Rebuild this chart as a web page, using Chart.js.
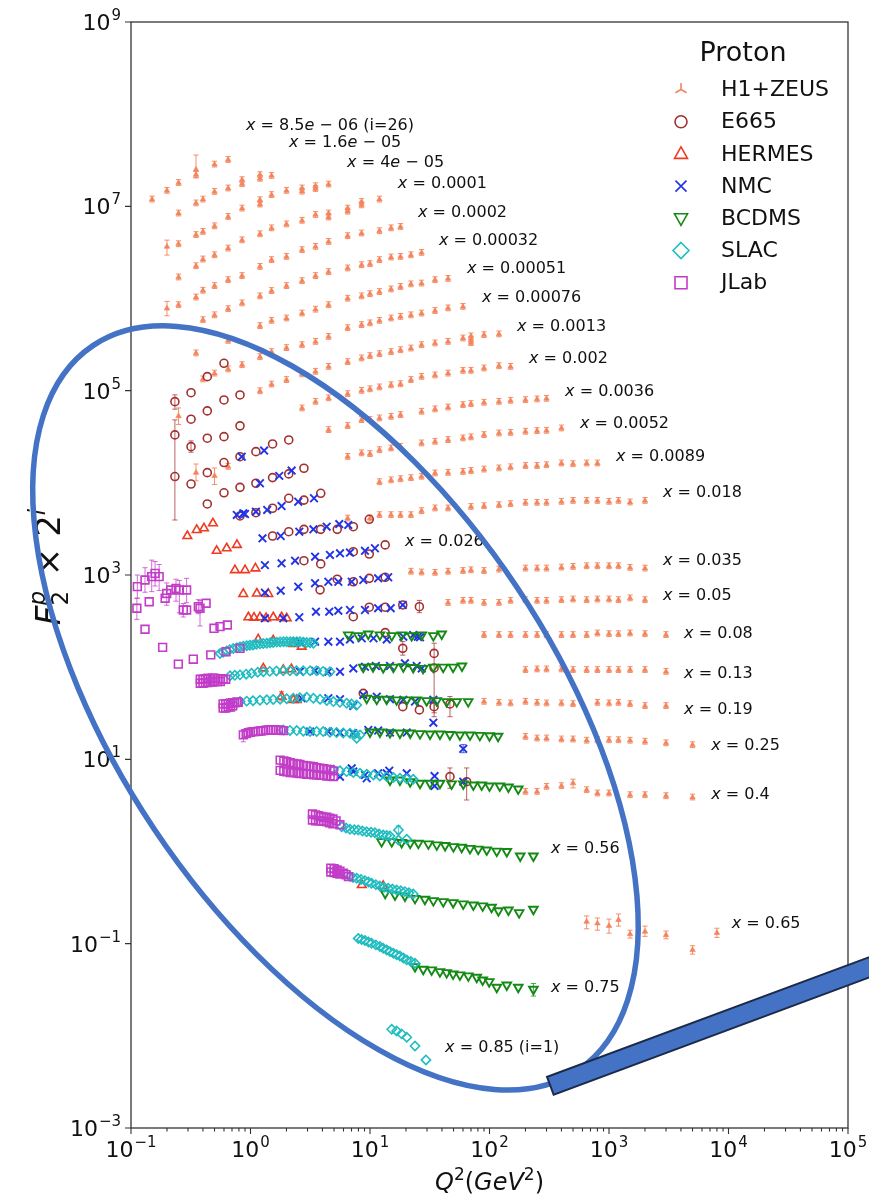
<!DOCTYPE html>
<html>
<head>
<meta charset="utf-8">
<script src="https://cdn.jsdelivr.net/npm/chart.js"></script>
<style>
  html, body { margin: 0; padding: 0; background: #fff; }
  #wrap { width: 869px; height: 1196px; }
</style>
</head>
<body>
<div id="wrap"><canvas id="f2Chart" width="869" height="1196"></canvas></div>
<script>
// F2 proton structure function x 2^i vs Q^2, one array per experiment: [Q2, F2*2^i, (errLow, errHigh)]
const h1zeus = [
  // x = 8.5e-06 (i=26)
  [0.15,1.19e7],[0.2,1.48e7],[0.25,1.8e7],[0.35,2.5e7,2.03e7,3.6e7],[0.35,2.2e7],[0.5,2.85e7],[0.65,3.2e7],
  // x = 1.6e-05
  [0.25,8.4e6],[0.35,1.08e7],[0.4,1.19e7],[0.5,1.44e7],[0.65,1.57e7],[0.85,1.93e7],[0.85,1.75e7],[1.2,2.19e7],[1.2,2.0e7],[1.5,2.15e7],
  // x = 4e-05
  [0.2,3.65e6,2.96e6,4.3e6],[0.25,3.9e6],[0.35,4.9e6],[0.4,5.3e6],[0.5,6.1e6],[0.65,7.7e6],[0.85,9.5e6],[1.2,1.17e7],[1.2,1.05e7],
  [1.5,1.33e7],[2,1.48e7],[2.7,1.57e7],[2.7,1.45e7],[3.5,1.66e7],[3.5,1.55e7],[4.5,1.73e7],
  // x = 0.0001
  [0.25,1.7e6],[0.35,2.25e6],[0.4,2.66e6],[0.5,2.96e6],[0.65,3.5e6],[0.85,4.3e6],[1.2,5.0e6],[1.5,5.8e6],[2,6.4e6],[2.7,7.0e6],
  [3.5,8.1e6],[4.5,8.4e6],[4.5,7.6e6],[6.5,9.5e6],[6.5,8.8e6],[8.5,1.12e7],[8.5,1.03e7],[12,1.19e7],
  // x = 0.0002
  [0.2,7.8e5,6.5e5,9.3e5],[0.25,8.5e5],[0.35,1.03e6],[0.4,1.22e6],[0.5,1.37e6],[0.65,1.59e6],[0.85,1.76e6],[1.2,2.21e6],[1.5,2.62e6],
  [2,2.84e6],[2.7,3.36e6],[3.5,3.65e6],[4.5,4.13e6],[6.5,4.77e6],[8.5,5.1e6],[12,5.4e6],[15,5.8e6],[18,6.0e6],
  // x = 0.00032
  [0.4,5.85e5],[0.5,6.6e5],[0.65,7.7e5],[0.85,8.9e5],[1.2,1.06e6],[1.5,1.21e6],[2,1.37e6],[2.7,1.55e6],[3.5,1.76e6],[4.5,1.94e6],
  [6.5,2.13e6],[8.5,2.31e6],[10,2.37e6],[12,2.62e6],[15,2.8e6],[18,2.84e6],[22,2.96e6],[27,3.14e6],
  // x = 0.00051
  [0.35,2.55e5],[0.65,3.49e5],[1.2,5.04e5],[1.5,5.75e5],[2,6.1e5],[2.7,6.9e5],[3.5,7.6e5],[4.5,8.5e5],[6.5,1.0e6],[8.5,1.06e6],
  [10,1.12e6],[12,1.18e6],[15,1.26e6],[18,1.34e6],[22,1.43e6],[27,1.46e6],[35,1.59e6],[45,1.64e6],
  // x = 0.00076
  [0.4,1.33e5],[0.5,1.54e5],[0.65,1.71e5],[0.85,1.9e5],[1.2,2.32e5],[1.5,2.63e5],[2,2.91e5],[2.7,3.13e5],[3.5,3.4e5],[4.5,3.85e5],
  [6.5,4.79e5],[8.5,5.17e5],[10,5.4e5],[12,5.75e5],[15,6.1e5],[18,6.35e5],[22,6.6e5],[27,6.9e5],[35,7.35e5],[45,7.85e5],[60,8.15e5],
  // x = 0.0013
  [1.2,9.9e4],[1.5,1.17e5],[2,1.31e5],[2.7,1.51e5],[3.5,1.61e5],[4.5,1.82e5],[6.5,2.05e5],[8.5,2.25e5],[10,2.38e5],[12,2.5e5],
  [15,2.63e5],[18,2.76e5],[22,2.88e5],[27,3.13e5],[35,3.27e5],[45,3.4e5],[60,3.7e5],[70,3.55e5],[70,3.3e5],[70,3.9e5],[90,4.02e5],[120,4.1e5],
  // x = 0.002
  [0.25,5.3e4,4.3e4,6.5e4],[2.7,6.45e4],[3.5,7.6e4],[4.5,8.3e4],[6.5,9.2e4],[8.5,1.0e5],[10,1.04e5],[12,1.09e5],[15,1.15e5],[18,1.18e5],
  [22,1.31e5],[27,1.42e5],[35,1.47e5],[45,1.54e5],[60,1.65e5],[70,1.65e5],[90,1.75e5],[120,1.85e5],[150,1.82e5],
  // x = 0.0036
  [4.5,3.75e4],[6.5,4.15e4],[8.5,4.82e4],[10,4.82e4],[12,5.02e4],[15,5.23e4],[18,5.46e4],[27,5.93e4],[35,6.3e4],[45,6.6e4],
  [60,7.0e4],[70,7.18e4],[90,7.43e4],[120,7.6e4],[150,7.8e4],[200,7.93e4],[250,8.07e4],[300,8.2e4],
  // x = 0.0052
  [0.35,1.29e4,1.05e4,1.6e4],[0.5,1.19e4,9.6e3,1.45e4],[0.65,1.5e4],[6.5,1.92e4],[8.5,2.1e4],[10,2.06e4],[12,2.27e4],[15,2.37e4],
  [18,2.47e4],[27,2.69e4],[35,2.8e4],[45,2.92e4],[60,3.05e4],[70,3.13e4],[90,3.31e4],[120,3.45e4],[150,3.5e4],[200,3.6e4],
  [250,3.66e4],[300,3.69e4],[400,3.91e4],
  // x = 0.0089
  [12,1.02e4],[15,1.07e4],[18,1.1e4],[22,1.13e4],[27,1.17e4],[35,1.27e4],[45,1.29e4],[60,1.32e4],[70,1.35e4],[90,1.4e4],
  [120,1.44e4],[150,1.48e4],[200,1.53e4],[250,1.53e4],[300,1.56e4],[400,1.63e4],[500,1.6e4],[650,1.63e4],[800,1.63e4],
  // x = 0.018
  [6.5,4.12e3],[10,4.12e3],[12,4.48e3],[15,4.48e3],[18,4.48e3],[22,4.48e3],[27,4.95e3],[35,5.3e3],[45,5.3e3],[70,5.5e3],
  [90,5.6e3],[120,5.75e3],[150,5.9e3],[200,6.1e3],[250,6.1e3],[300,6.1e3],[400,6.25e3],[500,6.4e3],[650,6.4e3],[800,6.4e3],
  [1000,6.25e3],[1200,6.4e3],[1500,6.15e3],[2000,6.4e3],
  // x = 0.035
  [22,1.09e3],[27,1.07e3],[35,1.06e3],[45,1.09e3],[60,1.11e3],[70,1.13e3],[90,1.11e3],[120,1.15e3],[200,1.18e3],[250,1.18e3],
  [300,1.18e3],[400,1.21e3],[500,1.23e3],[650,1.25e3],[800,1.25e3],[1000,1.25e3],[1200,1.25e3],[1500,1.2e3],[2000,1.18e3],
  // x = 0.05
  [45,5.0e2],[60,5.27e2],[70,5.27e2],[90,5.0e2],[120,5.0e2],[150,5.27e2],[200,5.36e2],[250,5.27e2],[300,5.27e2],[400,5.36e2],
  [500,5.45e2],[650,5.36e2],[800,5.45e2],[1000,5.45e2],[1200,5.36e2],[1500,5.6e2],[2000,5.36e2],
  // x = 0.08
  [90,2.24e2],[120,2.24e2],[150,2.24e2],[200,2.24e2],[250,2.24e2],[300,2.24e2],[400,2.24e2],[500,2.24e2],[650,2.24e2],
  [800,2.33e2],[1000,2.29e2],[1200,2.29e2],[1500,2.33e2],[2000,2.29e2],[3000,2.24e2],
  // x = 0.13
  [200,9.35e1],[250,9.5e1],[300,9.5e1],[400,9.5e1],[500,9.35e1],[650,9.35e1],[800,9.35e1],[1000,9.35e1],[1200,9.35e1],
  [1500,9.35e1],[2000,9.35e1],[3000,8.93e1],
  // x = 0.19
  [90,4.23e1],[120,4.12e1],[150,4.06e1],[200,4.23e1],[250,4.12e1],[300,4.06e1],[400,4.06e1],[500,3.99e1],[800,4.12e1],
  [1000,4.06e1],[1200,4.12e1],[1500,3.99e1],[2000,3.8e1],[3000,3.8e1],
  // x = 0.25
  [200,1.76e1],[250,1.69e1],[300,1.69e1],[400,1.65e1],[500,1.65e1],[650,1.6e1],[800,1.62e1],[1000,1.62e1],[1200,1.62e1],
  [1500,1.6e1],[2000,1.56e1],[3000,1.5e1],[5000,1.43e1],
  // x = 0.4
  [200,4.46],[250,4.46],[300,5.05],[400,5.14],[500,5.5,4.9,6.1],[650,4.65],[800,4.28],[1000,4.28],[1500,4.1],[2000,4.1],[3000,4.0],[5000,3.87],
  // x = 0.65
  [650,0.173,0.145,0.2],[800,0.166,0.14,0.19],[1000,0.156,0.13,0.185],[1200,0.181,0.155,0.21],[1500,0.127,0.115,0.14],
  [2000,0.135,0.12,0.155],[3000,0.124,0.113,0.137],[5000,0.0854,0.077,0.095],[8000,0.131,0.117,0.147]
];

const e665 = [
  [0.233,7.6e4,6.3e4,9.0e4],[0.318,9.5e4],[0.435,1.42e5],[0.6,1.98e5],
  [0.233,3.31e4],[0.318,4.9e4],[0.435,6.03e4],[0.6,7.93e4],[0.817,8.99e4],
  [0.233,1.17e4,3.95e3,4.82e4],[0.318,2.47e4,2.15e4,2.85e4],[0.435,3.05e4],[0.6,3.17e4],[0.817,4.15e4],
  [0.318,9.7e3],[0.435,1.29e4],[0.6,1.66e4],[0.817,1.92e4],[1.11,2.18e4],[1.53,2.64e4],[2.09,2.92e4],
  [0.435,5.9e3],[0.6,7.8e3],[0.817,8.93e3],[1.11,9.9e3],[1.53,1.14e4],[2.09,1.25e4],[2.8,1.44e4],
  [0.817,4.37e3],[1.11,4.74e3],[1.53,5.3e3],[2.09,6.8e3],[2.8,6.5e3],[3.87,7.7e3],
  [1.53,2.65e3],[2.09,2.95e3],[2.8,3.13e3],[3.87,3.13e3],[5.32,3.13e3],[7.25,3.34e3],[9.86,4.02e3],
  [2.8,1.43e3],[3.87,1.32e3],[7.25,1.79e3],[9.86,1.69e3],[13.4,2.12e3],
  [3.82,6.9e2],[5.32,9.0e2],[7.25,8.45e2],[9.86,9.2e2],[13.4,9.45e2],
  [7.25,3.53e2],[9.86,4.47e2],[13.4,4.47e2],[18.8,4.73e2],[25.9,4.53e2,3.9e2,5.3e2],
  [13.4,2.37e2],[18.8,1.6e2,1.35e2,1.9e2],[34.4,1.41e2,2.9e1,1.82e2],[34.4,9.8e1],
  [8.79,5.2e1],[18.8,3.73e1],[25.9,3.44e1],[34.4,3.73e1,3.2e1,4.4e1],[46.7,3.99e1,2.9e1,4.8e1],
  [46.7,6.49,4.85,8.06],[64.4,5.72,3.62,8.06]
];

const hermes = [
  [0.296,2.65e3],[0.355,3.08e3],[0.408,3.21e3],[0.485,3.64e3],
  [0.521,1.83e3],[0.632,1.95e3],[0.77,2.12e3],
  [0.741,1.13e3],[0.9,1.13e3],[1.1,1.18e3],
  [0.87,6.23e2],[1.13,6.3e2],[1.41,6.23e2],
  [0.96,3.48e2],[1.07,3.45e2],[1.2,3.48e2],[1.35,3.4e2],[1.55,3.48e2],[1.82,3.48e2],[2.01,3.39e2],
  [1.16,2.0e2],[1.55,1.95e2],[2.28,1.79e2],[2.68,1.67e2],
  [1.28,9.7e1],[1.88,9.35e1],[2.2,9.5e1],
  [1.82,4.79e1,4.3e1,5.4e1],[2.28,4.42e1],[2.44,4.42e1],
  [8.53,0.433],[12.9,0.423]
];

const nmc = [
  [0.844,1.92e4],[1.3,2.24e4],
  [1.2,9.9e3],[1.74,1.19e4],[2.21,1.36e4],
  [0.768,4.48e3],[0.87,4.67e3],[0.9,4.59e3],[1.11,4.86e3],[1.38,5.08e3],[1.82,5.6e3],[2.51,6.25e3],[3.4,6.8e3],
  [1.26,2.5e3],[1.79,2.65e3],[2.56,2.95e3],[3.36,3.13e3],[4.34,3.34e3],[5.53,3.57e3],[6.58,3.49e3],
  [1.32,1.28e3],[1.82,1.34e3],[2.36,1.43e3],[3.47,1.58e3],[4.62,1.65e3],[5.61,1.72e3],[6.8,1.75e3],[9.08,1.83e3],[11.0,1.95e3],
  [1.32,6.43e2],[1.79,6.76e2],[2.51,7.47e2],[3.47,8.15e2],[4.48,8.45e2],[5.43,8.45e2],[7.03,8.45e2],[8.79,8.83e2],[11.7,9.2e2],[14.2,9.45e2],
  [1.32,3.39e2],[1.88,3.39e2],[2.56,3.48e2],[3.53,4.0e2],[4.56,4.0e2],[5.43,4.1e2],[6.8,4.17e2],[9.08,4.17e2],[11.7,4.36e2],[14.9,4.36e2],[18.8,4.73e2],
  [2.59,1.89e2],[3.47,1.89e2],[4.48,1.89e2],[5.61,1.89e2],[6.8,2.0e2],[8.53,2.06e2],[10.7,2.06e2],[13.8,2.0e2],[19.0,2.14e2],[23.0,2.24e2],[25.1,2.14e2],[26.2,2.11e2],
  [2.59,8.93e1],[3.47,9.15e1],[4.48,8.93e1],[5.61,8.93e1],[7.25,9.7e1],[9.08,1.01e2],[11.2,1.03e2],[14.7,1.03e2],[19.6,1.1e2],[24.6,1.03e2],[27.1,9.7e1],
  [2.68,4.6e1],[4.48,4.6e1],[5.61,4.49e1],[7.25,3.8e1],[8.79,5.0e1],[11.4,4.79e1],[14.7,4.49e1],[19.0,4.42e1],[23.8,4.23e1],[33.9,4.42e1],
  [3.15,2.0e1],[4.48,2.0e1],[5.61,1.95e1],[7.25,1.92e1],[9.68,2.08e1],[11.7,2.05e1],[14.7,1.95e1],[20.3,1.95e1],[33.9,2.5e1],
  [60.3,1.3e1,1.18e1,1.45e1],
  [5.61,6.49],[7.03,7.99],[7.25,7.36],[9.38,6.23],[9.08,6.76],[11.7,7.05],[14.5,7.53],[13.8,7.05],[20.3,7.05],[34.7,6.59],[34.7,5.14],[60.3,5.72]
];

const bcdms = [
  // x = 0.08
  [6.58,2.24e2],[7.98,2.2e2],[9.68,2.29e2],[12.1,2.24e2],[15.2,2.2e2],[18.4,2.24e2],[22.3,2.2e2],[27.1,2.24e2],[33.9,2.2e2],[39.8,2.29e2],
  // x = 0.13
  [8.79,1.0e2],[10.6,1.01e2],[12.9,9.9e1],[15.7,1.0e2],[19.0,1.01e2],[23.0,9.9e1],[27.8,9.7e1],[33.9,1.0e2],[41.0,1.0e2],[49.6,1.0e2],[58.8,1.03e2],
  // x = 0.19
  [9.38,4.6e1],[11.4,4.49e1],[13.8,4.49e1],[16.7,4.42e1],[20.3,4.42e1],[24.6,4.42e1],[29.8,4.33e1],[36.2,4.33e1],[43.8,4.23e1],[53.2,4.23e1],[66.3,4.23e1],
  // x = 0.25
  [10,1.98e1],[12.1,1.98e1],[14.7,1.95e1],[17.8,1.93e1],[21.7,1.93e1],[26.2,1.9e1],[31.8,1.88e1],[38.5,1.88e1],[46.6,1.86e1],[56.6,1.84e1],
  [68.7,1.84e1],[83,1.82e1],[100,1.8e1],[118,1.78e1],
  // x = 0.4
  [14.7,5.97],[17.8,5.97],[21.7,5.72],[26.2,5.5],[31.8,5.5],[38.5,5.5],[48.2,5.41],[60.4,5.41],[73.3,5.27],[86,5.27],[100,5.14],[122,5.14],[144,5.01],[174,4.77],
  // x = 0.56
  [12.5,1.28],[15.2,1.28],[18.4,1.25],[21.7,1.23],[25.4,1.23],[30.8,1.21],[36.2,1.18],[42.5,1.16],[49.9,1.13],[58.5,1.11],[68.7,1.08],
  [80.5,1.06],[94.9,1.04],[115,1.01],[139.5,1.0],[180.8,0.893],[233,0.893],
  // x = 0.65
  [13.4,0.352],[16.2,0.338],[19.6,0.329],[23.8,0.31],[28.8,0.303],[33.9,0.293],[41.0,0.286],[49.6,0.279],[60.3,0.27],[73.3,0.263],
  [87.7,0.257],[104,0.248],[118.8,0.228],[144,0.232],[177,0.217],[233,0.236],
  // x = 0.75
  [23.8,0.0564],[27.9,0.0528],[32.8,0.0519],[38.5,0.0497],[43.8,0.0485],[49.6,0.0469],[56.6,0.0458],[66.5,0.0447],[78.2,0.0432],
  [87.7,0.0404],[99.5,0.0387],[115,0.0336],[139.5,0.0356],[174,0.0336],[233,0.032,0.027,0.037]
];

const slac = [
  // x = 0.08
  [0.556,1.41e2],[0.59,1.45e2],[0.632,1.5e2],[0.67,1.55e2],[0.718,1.59e2],[0.77,1.63e2],[0.817,1.66e2],[0.87,1.69e2],[0.93,1.71e2],
  [0.99,1.73e2],[1.05,1.74e2],[1.12,1.77e2],[1.2,1.79e2],[1.28,1.81e2],[1.37,1.82e2],[1.46,1.84e2],[1.55,1.85e2],[1.66,1.87e2],
  [1.77,1.88e2],[1.89,1.89e2],[2.01,1.89e2],[2.15,1.89e2],[2.28,1.89e2],[2.44,1.89e2],[2.59,1.89e2],[2.77,1.87e2],[2.95,1.85e2],
  [3.15,1.84e2],[3.36,1.82e2],
  // x = 0.13
  [0.674,8.06e1],[0.74,8.15e1],[0.817,8.25e1],[0.92,8.4e1],[1.02,8.6e1],[1.15,8.8e1],[1.28,8.93e1],[1.45,9.0e1],[1.65,9.1e1],
  [1.88,9.15e1],[2.14,9.15e1],[2.42,9.15e1],[2.76,9.15e1],[3.15,9.15e1],[3.58,9.15e1],[4.05,9.0e1],[4.62,8.93e1],
  // x = 0.19
  [0.817,4.23e1],[0.93,4.28e1],[1.05,4.33e1],[1.2,4.38e1],[1.37,4.42e1],[1.55,4.46e1],[1.77,4.49e1],[2.01,4.55e1],[2.28,4.6e1],
  [2.59,4.66e1],[2.95,4.72e1],[3.36,4.6e1],[3.82,4.49e1],[4.35,4.35e1],[4.94,4.23e1],[5.6,4.15e1],[6.38,4.06e1],[7.0,3.98e1],[7.74,3.89e1],
  // x = 0.25
  [1.88,2.08e1],[2.14,2.06e1],[2.44,2.05e1],[2.77,2.02e1],[3.15,2.0e1],[3.58,2.0e1],[4.06,2.0e1],[4.62,1.97e1],[5.25,1.95e1],
  [5.97,1.93e1],[6.8,1.92e1],[7.5,1.88e1],[8.25,1.84e1],[7.74,1.69e1],
  // x = 0.4
  [4.94,7.67],[5.6,7.5],[6.38,7.36],[7.25,7.2],[8.25,7.05],[9.4,6.9],[10.7,6.76],[12.1,6.6],[13.8,6.49],[15.7,6.35],[17.8,6.23],[20.3,6.15],[23.0,6.07],
  // x = 0.56
  [5.8,1.86],[6.3,1.8],[6.8,1.74],[7.4,1.72],[7.98,1.71],[8.65,1.67],[9.38,1.64],[10.2,1.62],[11.0,1.6],[11.9,1.55],[12.9,1.51],
  [13.8,1.49],[14.7,1.47],[17.3,1.71,1.55,1.9],[17.3,1.33],[20.3,1.36],
  // x = 0.65
  [6.8,0.534],[7.2,0.523],[7.74,0.512],[8.4,0.498],[9.08,0.483],[9.7,0.467],[10.3,0.452],[11.2,0.437],[12.1,0.423],[13.1,0.41],
  [14.2,0.399],[15.4,0.391],[16.7,0.383],[18.1,0.375],[19.6,0.367],[21.2,0.356],[23.0,0.346],
  // x = 0.75
  [7.98,0.114],[8.5,0.111],[9.08,0.108],[9.7,0.104],[10.3,0.101],[11.2,0.097],[12.1,0.093],[12.9,0.089],[13.8,0.0854],[14.7,0.082],
  [15.7,0.0787],[16.7,0.076],[17.8,0.0736],[19.0,0.07],[20.3,0.0667],[22.0,0.064],[23.8,0.0614],
  // x = 0.85
  [15.2,0.0118],[16.7,0.0113],[18.4,0.0105],[20.3,0.00964],[23.8,0.00775],[29.4,0.00548]
];

const jlab = [
  // low Q2 resonance-region points
  [0.112,4.36e2,3.3e2,5.6e2],[0.113,7.47e2,5.6e2,1.0e3],[0.131,8.83e2,6.5e2,1.2e3],[0.149,9.6e2,6.6e2,1.45e3],[0.159,1.04e3,7.6e2,1.4e3],
  [0.172,9.6e2,6.8e2,1.3e3],[0.142,5.13e2],[0.199,6.3e2,4.7e2,8.2e2],[0.193,5.6e2],[0.215,6.88e2],[0.238,7.17e2,5.2e2,9.0e2],
  [0.254,6.88e2,3.9e2,8.7e2],[0.292,6.88e2,5.0e2,9.2e2],[0.274,4.17e2,3.5e2,4.9e2],[0.292,4.17e2],[0.366,4.53e2,3.8e2,5.4e2],
  [0.378,4.36e2,2.8e2,5.3e2],[0.425,4.94e2],
  [0.131,2.58e2],[0.184,1.64e2],[0.249,1.08e2],[0.332,1.22e2],[0.465,1.36e2],[0.495,2.64e2],[0.556,2.75e2],[0.64,2.87e2],
  [0.624,1.47e2],[0.817,1.6e2],
  // x = 0.13
  [0.38,7.4e1],[0.38,6.7e1],[0.4,7.4e1],[0.4,6.7e1],[0.42,7.5e1],[0.42,6.8e1],[0.44,7.6e1],[0.44,6.8e1],[0.46,7.5e1],[0.46,6.9e1],
  [0.48,7.6e1],[0.48,6.9e1],[0.5,7.6e1],[0.5,7.0e1],[0.53,7.5e1],[0.53,7.0e1],[0.56,7.5e1],[0.56,7.0e1],[0.59,7.4e1],[0.62,7.4e1],
  // x = 0.19
  [0.59,4.0e1],[0.59,3.6e1],[0.62,4.0e1],[0.62,3.6e1],[0.65,4.0e1],[0.65,3.7e1],[0.68,4.1e1],[0.68,3.7e1],[0.71,4.1e1],[0.71,3.8e1],
  [0.74,4.1e1],[0.77,4.2e1],[0.79,4.15e1],
  // x = 0.25
  [0.871,1.84e1,1.55e1,2.1e1],[0.92,1.9e1],[0.959,1.95e1],[1.0,1.97e1],[1.05,2.0e1],[1.1,2.0e1],[1.16,2.02e1],[1.22,2.03e1],[1.28,2.05e1],
  [1.34,2.07e1],[1.41,2.08e1],[1.48,2.08e1],[1.55,2.08e1],[1.63,2.08e1],[1.71,2.08e1],[1.79,2.06e1],[1.88,2.05e1],
  // x = 0.4
  [1.77,9.8],[1.77,7.6],[1.9,9.6],[1.9,7.4],[2.01,9.4],[2.01,7.3],[2.15,9.2],[2.15,7.2],[2.28,9.0],[2.28,7.2],[2.45,8.9],[2.45,7.1],
  [2.59,8.8],[2.59,7.0],[2.77,8.6],[2.77,7.0],[2.95,8.5],[2.95,6.9],[3.15,8.4],[3.15,6.9],[3.36,8.3],[3.36,6.8],[3.58,8.1],[3.58,6.8],
  [3.82,8.0],[3.82,6.7],[4.08,7.9],[4.08,6.7],[4.35,7.8],[4.35,6.6],[4.64,7.7],[4.64,6.6],[4.94,7.5],[4.94,6.5],
  // x = 0.56
  [3.3,2.55],[3.3,2.2],[3.5,2.5],[3.5,2.15],[3.7,2.45],[3.7,2.15],[3.9,2.4],[3.9,2.15],[4.1,2.35],[4.1,2.12],[4.35,2.35],[4.35,2.1],
  [4.6,2.3],[4.6,2.05],[4.9,2.25],[4.9,2.0],[5.2,2.15],[5.6,1.95],
  // x = 0.65
  [4.7,0.66],[4.7,0.6],[5.0,0.65],[5.0,0.59],[5.3,0.63],[5.3,0.58],[5.6,0.61],[5.6,0.57],[6.0,0.58],[6.3,0.56],[6.6,0.534]
];

const expNames = ['H1+ZEUS', 'E665', 'HERMES', 'NMC', 'BCDMS', 'SLAC', 'JLab'];
const expSeries = [h1zeus, e665, hermes, nmc, bcdms, slac, jlab];

// bin label text, anchored (left, middle) at [Q2, F2*2^i]
const binLabels = [
  ['x = 8.5e \u2212 06 (i=26)', 0.916, 7.45e7],
  ['x = 1.6e \u2212 05', 2.1, 4.86e7],
  ['x = 4e \u2212 05', 6.43, 2.95e7],
  ['x = 0.0001', 17.1, 1.75e7],
  ['x = 0.0002', 25.2, 8.47e6],
  ['x = 0.00032', 37.8, 4.21e6],
  ['x = 0.00051', 64.8, 2.09e6],
  ['x = 0.00076', 86.5, 1.01e6],
  ['x = 0.0013', 170, 4.91e5],
  ['x = 0.002', 214, 2.21e5],
  ['x = 0.0036', 429, 9.68e4],
  ['x = 0.0052', 572, 4.35e4],
  ['x = 0.0089', 1145, 1.91e4],
  ['x = 0.018', 2830, 7.76e3],
  ['x = 0.026', 19.6, 2.28e3],
  ['x = 0.035', 2830, 1.42e3],
  ['x = 0.05', 2830, 5.92e2],
  ['x = 0.08', 4250, 2.29e2],
  ['x = 0.13', 4250, 8.55e1],
  ['x = 0.19', 4250, 3.43e1],
  ['x = 0.25', 7170, 1.40e1],
  ['x = 0.4', 7170, 4.10],
  ['x = 0.56', 327, 1.06],
  ['x = 0.65', 10660, 0.164],
  ['x = 0.75', 327, 0.033],
  ['x = 0.85 (i=1)', 42.5, 7.38e-3]
];

const xTickExps = [-1, 0, 1, 2, 3, 4, 5];
const yTickExps = [-3, -1, 1, 3, 5, 7, 9];

// marker look for each experiment (matplotlib-ish)
const expColors = ['#f4845c', '#a3302f', '#ee3b22', '#2233e6', '#148a14', '#1fbcc0', '#c23cc8'];
const markers = [
  { style: 'triangle', r: 3.2, rot: 0, fill: true, bw: 0.6 },
  { style: 'circle', r: 4, rot: 0, bw: 1.6 },
  { style: 'triangle', r: 5, rot: 0, bw: 1.6 },
  { style: 'crossRot', r: 5.4, rot: 0, bw: 1.9 },
  { style: 'triangle', r: 5, rot: 180, bw: 1.9 },
  { style: 'rectRot', r: 4.6, rot: 0, bw: 1.6 },
  { style: 'rect', r: 5.5, rot: 0, bw: 1.6 }
];

const FONT = '"DejaVu Sans", "Liberation Sans", sans-serif';

function richRuns(str) {
  const runs = [];
  for (const ch of str) {
    const it = ch === 'x' || ch === 'e';
    if (runs.length && runs[runs.length - 1].it === it) runs[runs.length - 1].t += ch;
    else runs.push({ t: ch, it: it });
  }
  return runs;
}

function drawRuns(ctx, runs, x, y, size) {
  let cx = x;
  runs.forEach(r => {
    ctx.font = (r.it ? 'italic ' : '') + size + 'px ' + FONT;
    ctx.fillText(r.t, cx, y);
    cx += ctx.measureText(r.t).width;
  });
}

function drawPow(ctx, exp, x, y, align) {
  const sup = exp < 0 ? '\u2212' + (-exp) : String(exp);
  ctx.font = '22px ' + FONT;
  const wb = ctx.measureText('10').width;
  ctx.font = '15px ' + FONT;
  const ws = ctx.measureText(sup).width;
  const total = wb + ws + 1;
  const left = align === 'right' ? x - total : x - total / 2;
  ctx.textAlign = 'left';
  ctx.textBaseline = 'alphabetic';
  ctx.font = '22px ' + FONT;
  ctx.fillText('10', left, y);
  ctx.font = '15px ' + FONT;
  ctx.fillText(sup, left + wb + 1, y - 10);
}

function drawLegendMarker(ctx, i, cx, cy) {
  ctx.strokeStyle = expColors[i];
  ctx.lineWidth = 1.6;
  ctx.beginPath();
  if (i === 0) {
    ctx.moveTo(cx, cy); ctx.lineTo(cx, cy - 6.5);
    ctx.moveTo(cx, cy); ctx.lineTo(cx - 5.6, cy + 3.3);
    ctx.moveTo(cx, cy); ctx.lineTo(cx + 5.6, cy + 3.3);
  } else if (i === 1) {
    ctx.arc(cx, cy, 6, 0, Math.PI * 2);
  } else if (i === 2) {
    ctx.moveTo(cx, cy - 7); ctx.lineTo(cx + 6.5, cy + 4.5); ctx.lineTo(cx - 6.5, cy + 4.5); ctx.closePath();
  } else if (i === 3) {
    ctx.moveTo(cx - 5.5, cy - 5.5); ctx.lineTo(cx + 5.5, cy + 5.5);
    ctx.moveTo(cx + 5.5, cy - 5.5); ctx.lineTo(cx - 5.5, cy + 5.5);
  } else if (i === 4) {
    ctx.moveTo(cx, cy + 7); ctx.lineTo(cx + 6.5, cy - 4.5); ctx.lineTo(cx - 6.5, cy - 4.5); ctx.closePath();
  } else if (i === 5) {
    ctx.moveTo(cx, cy - 8); ctx.lineTo(cx + 8, cy); ctx.lineTo(cx, cy + 8); ctx.lineTo(cx - 8, cy); ctx.closePath();
  } else {
    ctx.rect(cx - 6, cy - 6, 12, 12);
  }
  ctx.stroke();
}

// error bars (and the tiny caps of the HERA points)
const errorBars = {
  id: 'errorBars',
  beforeDatasetsDraw(chart) {
    const { ctx, chartArea: a, scales: { y } } = chart;
    ctx.save();
    ctx.beginPath();
    ctx.rect(a.left, a.top, a.width, a.height);
    ctx.clip();
    chart.data.datasets.forEach((ds, di) => {
      const meta = chart.getDatasetMeta(di);
      ctx.strokeStyle = ds.pointBorderColor;
      ctx.globalAlpha = di === 0 ? 0.9 : 0.75;
      ctx.lineWidth = 1;
      ds.data.forEach((p, i) => {
        const el = meta.data[i];
        let y1, y2;
        if (p.lo !== undefined) {
          y1 = y.getPixelForValue(p.hi);
          y2 = y.getPixelForValue(p.lo);
        } else if (di === 0) {
          y1 = el.y - 3.2;
          y2 = el.y + 2.6;
        } else {
          return;
        }
        ctx.beginPath();
        ctx.moveTo(el.x, y1); ctx.lineTo(el.x, y2);
        ctx.moveTo(el.x - 2.6, y1); ctx.lineTo(el.x + 2.6, y1);
        ctx.moveTo(el.x - 2.6, y2); ctx.lineTo(el.x + 2.6, y2);
        ctx.stroke();
      });
    });
    ctx.restore();
  }
};

// frame, log ticks, tick labels, axis titles
const axesDecor = {
  id: 'axesDecor',
  afterDatasetsDraw(chart) {
    const { ctx, chartArea: a, scales: { x, y } } = chart;
    ctx.save();
    ctx.strokeStyle = '#333';
    ctx.lineWidth = 1.3;
    ctx.strokeRect(a.left, a.top, a.width, a.height);

    ctx.beginPath();
    ctx.lineWidth = 1.1;
    xTickExps.forEach(e => {
      const px = x.getPixelForValue(Math.pow(10, e));
      ctx.moveTo(px, a.bottom); ctx.lineTo(px, a.bottom + 6);
    });
    for (let e = xTickExps[0]; e < xTickExps[xTickExps.length - 1]; e++) {
      for (let m = 2; m <= 9; m++) {
        const px = x.getPixelForValue(m * Math.pow(10, e));
        ctx.moveTo(px, a.bottom); ctx.lineTo(px, a.bottom + 3.5);
      }
    }
    yTickExps.forEach(e => {
      const py = y.getPixelForValue(Math.pow(10, e));
      ctx.moveTo(a.left, py); ctx.lineTo(a.left - 6, py);
    });
    ctx.stroke();

    ctx.fillStyle = '#111';
    xTickExps.forEach(e => drawPow(ctx, e, x.getPixelForValue(Math.pow(10, e)), a.bottom + 29, 'center'));
    yTickExps.forEach(e => drawPow(ctx, e, a.left - 10, y.getPixelForValue(Math.pow(10, e)) + 8, 'right'));

    // x title: Q^2(GeV^2)
    const xt = [
      { t: 'Q', f: 'italic 24px ', dy: 0 }, { t: '2', f: '17px ', dy: -10 },
      { t: '(', f: '24px ', dy: 0 }, { t: 'GeV', f: 'italic 24px ', dy: 0 },
      { t: '2', f: '17px ', dy: -10 }, { t: ')', f: '24px ', dy: 0 }
    ];
    drawComposite(ctx, xt, (a.left + a.right) / 2, a.bottom + 62);

    // y title: F_2^p x 2^i (rotated)
    ctx.save();
    ctx.translate(48, 567);
    ctx.rotate(-Math.PI / 2);
    const yt = [
      { t: 'F', f: 'italic 34px ', dy: 0 },
      { t: '2', f: '23px ', dy: 8, stackWith: { t: 'p', f: 'italic 23px ', dy: -15 } },
      { t: ' \u00d7 2', f: '34px ', dy: 0, pad: 4 },
      { t: 'i', f: 'italic 23px ', dy: -15 }
    ];
    drawComposite(ctx, yt, 0, 12);
    ctx.restore();
    ctx.restore();
  }
};

function drawComposite(ctx, parts, cx, baseline) {
  ctx.textAlign = 'left';
  ctx.textBaseline = 'alphabetic';
  const widths = parts.map(p => {
    ctx.font = p.f + FONT;
    let w = ctx.measureText(p.t).width;
    if (p.stackWith) {
      ctx.font = p.stackWith.f + FONT;
      w = Math.max(w, ctx.measureText(p.stackWith.t).width);
    }
    return w + (p.pad || 0);
  });
  const total = widths.reduce((s, w) => s + w, 0);
  let px = cx - total / 2;
  parts.forEach((p, i) => {
    ctx.font = p.f + FONT;
    ctx.fillText(p.t, px + (p.pad || 0), baseline + p.dy);
    if (p.stackWith) {
      ctx.font = p.stackWith.f + FONT;
      ctx.fillText(p.stackWith.t, px, baseline + p.stackWith.dy);
    }
    px += widths[i];
  });
}

// legend, bin labels, and the highlight overlay
const overlay = {
  id: 'overlay',
  afterDraw(chart) {
    const { ctx, scales: { x, y } } = chart;
    ctx.save();
    ctx.fillStyle = '#111';
    ctx.textBaseline = 'middle';
    ctx.textAlign = 'left';
    binLabels.forEach(([txt, q2, f]) => {
      drawRuns(ctx, richRuns(txt), x.getPixelForValue(q2), y.getPixelForValue(f), 16);
    });

    ctx.textAlign = 'center';
    ctx.font = '27px ' + FONT;
    ctx.fillText('Proton', 743, 54);
    ctx.textAlign = 'left';
    expNames.forEach((name, i) => {
      const cy = 89.5 + i * 32.2;
      drawLegendMarker(ctx, i, 681, cy);
      ctx.fillStyle = '#111';
      ctx.font = '22px ' + FONT;
      ctx.fillText(name, 721, cy + 1);
    });

    // blue ellipse around the fixed-target region
    const ex = x.getPixelForValue(5.14), ey = y.getPixelForValue(36.1);
    ctx.beginPath();
    ctx.ellipse(ex, ey, 436, 218, 56.2 * Math.PI / 180, 0, Math.PI * 2);
    ctx.strokeStyle = '#4472c4';
    ctx.lineWidth = 5.5;
    ctx.stroke();

    // magnifier handle
    const hx = x.getPixelForValue(303), hy = y.getPixelForValue(3.58e-3);
    ctx.translate(hx, hy);
    ctx.rotate(-20.4 * Math.PI / 180);
    ctx.fillStyle = '#4472c4';
    ctx.fillRect(0, 0, 420, 19);
    ctx.strokeStyle = '#1b2a48';
    ctx.lineWidth = 2;
    ctx.strokeRect(0, 0, 420, 19);
    ctx.restore();
  }
};

const datasets = expSeries.map((arr, i) => ({
  label: expNames[i],
  data: arr.map(p => ({ x: p[0], y: p[1], lo: p[2], hi: p[3] })),
  showLine: false,
  pointStyle: markers[i].style,
  pointRadius: markers[i].r,
  pointHoverRadius: markers[i].r,
  pointRotation: markers[i].rot,
  pointBorderColor: expColors[i],
  pointBackgroundColor: markers[i].fill ? expColors[i] : 'rgba(0,0,0,0)',
  pointBorderWidth: markers[i].bw,
  order: expNames.length - i
}));

new Chart(document.getElementById('f2Chart'), {
  type: 'scatter',
  data: { datasets: datasets },
  options: {
    responsive: false,
    animation: false,
    devicePixelRatio: 1,
    layout: { padding: { left: 131, top: 22, right: 21, bottom: 68 } },
    scales: {
      x: { type: 'logarithmic', min: 0.1, max: 1e5, display: false },
      y: { type: 'logarithmic', min: 1e-3, max: 1e9, display: false }
    },
    plugins: {
      legend: { display: false },
      tooltip: { enabled: false }
    }
  },
  plugins: [errorBars, axesDecor, overlay]
});
</script>
</body>
</html>
